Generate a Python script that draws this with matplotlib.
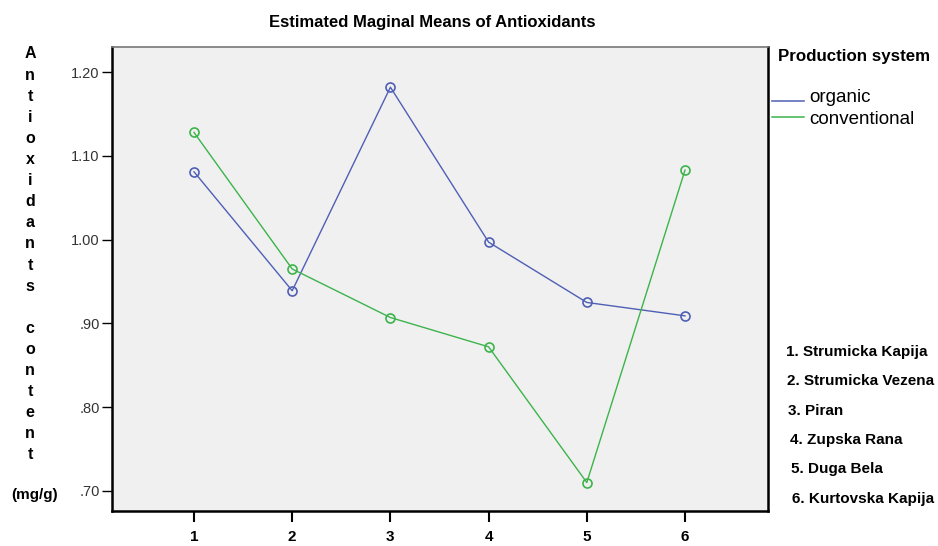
import matplotlib.pyplot as plt
from matplotlib.lines import Line2D

# values
cultivar_no = [1, 2, 3, 4, 5, 6]
organic = [1.081, 0.939, 1.182, 0.997, 0.925, 0.909]
conventional = [1.128, 0.965, 0.907, 0.872, 0.710, 1.083]
y_ticks = [0.70, 0.80, 0.90, 1.00, 1.10, 1.20]
y_tick_labels = ['.70', '.80', '.90', '1.00', '1.10', '1.20']
cultivars = ['Strumicka Kapija', 'Strumicka Vezena', 'Piran',
             'Zupska Rana', 'Duga Bela', 'Kurtovska Kapija']
series_names = ['organic', 'conventional']
ylabel_word = 'Antioxidants content'

blue = '#4f5fb5'
green = '#3cb44b'

plt.rcParams['font.family'] = ['Liberation Sans', 'DejaVu Sans']

W, H = 938, 546
fig = plt.figure(figsize=(W / 100, H / 100), dpi=100)
fig.patch.set_facecolor('white')

# axes box in pixels: left 112, right 768, top 47, bottom 511
ax = fig.add_axes([112 / W, (H - 511) / H, (768 - 112) / W, (511 - 47) / H])
ax.set_facecolor('#f0f0f0')

for vals, col in zip([organic, conventional], [blue, green]):
    ax.plot(cultivar_no, vals, color=col, lw=1.0, marker='o', ms=6.5,
            mfc='none', mec=col, mew=1.2)

ax.set_xlim(0.165, 6.845)
ax.set_ylim(0.676, 1.230)
ax.set_yticks(y_ticks)
ax.set_yticklabels(y_tick_labels, fontsize=10.5, color='#333333')
ax.set_xticks(cultivar_no)
ax.set_xticklabels([str(c) for c in cultivar_no], fontsize=11, fontweight='bold')
ax.tick_params(axis='y', direction='out', length=7, width=1, pad=2)
ax.tick_params(axis='x', direction='out', length=8, width=1.5, pad=6)

for s in ['left', 'bottom', 'right']:
    ax.spines[s].set_linewidth(1.8)
    ax.spines[s].set_color('black')
ax.spines['top'].set_linewidth(1.2)
ax.spines['top'].set_color('#777777')

# title
fig.text(432 / W, 1 - 22 / H, 'Estimated Maginal Means of Antioxidants',
         ha='center', va='center', fontsize=12, fontweight='bold')

# vertical stacked y label
letters = list(ylabel_word)
for i, ch in enumerate(letters):
    fig.text(30 / W, 1 - (54 + 21.1 * i) / H, ch, ha='center', va='center',
             fontsize=11.5, fontweight='bold')
fig.text(35 / W, 1 - 495 / H, '(mg/g)', ha='center', va='center',
         fontsize=11, fontweight='bold')

# legend
fig.text(778 / W, 1 - 57 / H, 'Production system', ha='left', va='center',
         fontsize=12.2, fontweight='bold')
leg_y = [101, 117]
txt_y = [97, 119]
for name, col, ly, ty in zip(series_names, [blue, green], leg_y, txt_y):
    fig.add_artist(Line2D([772 / W, 804 / W], [1 - ly / H, 1 - ly / H],
                          color=col, lw=1.1))
    fig.text(809 / W, 1 - ty / H, name, ha='left', va='center', fontsize=13.5)

# cultivar key
for i, (n, name) in enumerate(zip(cultivar_no, cultivars)):
    fig.text((786 + 1.2 * i) / W, 1 - (352 + 29.3 * i) / H, f'{n}. {name}',
             ha='left', va='center', fontsize=11, fontweight='bold')

fig.savefig('out.png', dpi=100)
